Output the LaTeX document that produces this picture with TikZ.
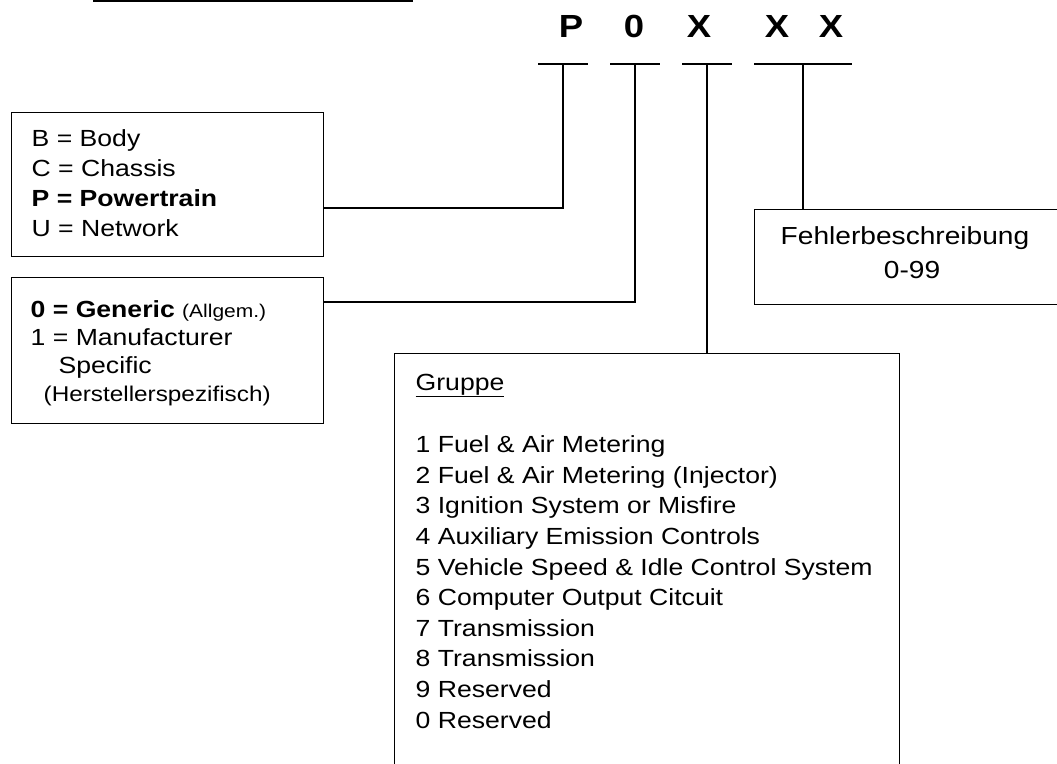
\documentclass[tikz,border=0pt]{standalone}
\usepackage{fontspec}
\setmainfont{Liberation Sans}[FakeStretch=1.14]
\usetikzlibrary{positioning}
\tikzset{
    %Define style for boxes
    kasten/.style={
           rectangle,
           draw=black, line width=1pt,
           anchor=north west,
           inner sep=0pt},
    %Define style for text lines
    zeile/.style={
           anchor=base west,
           inner sep=0pt,
           font=\fontsize{17.5}{21}\selectfont},
    kopf/.style={
           anchor=base,
           inner sep=0pt,
           font=\fontsize{24}{28}\selectfont\bfseries},
    % Define line style
    strich/.style={
           line width=1pt}
}
\begin{document}
\begin{tikzpicture}[x=0.75pt,y=-0.75pt,strich]
\useasboundingbox (0,0) rectangle (1057,764);

 %code letters
\draw[line width=1.5pt] (93,0.8) -- (413,0.8);
\node[kopf](lP) at (571,37){P};
\node[kopf](l0) at (634,37){0};
\node[kopf](lX) at (699,37){X};
\node[kopf](lY) at (777,37){X};
\node[kopf](lZ) at (831,37){X};
\coordinate (bP) at (563,64);
\coordinate (b0) at (635,64);
\coordinate (bX) at (707,64);
\coordinate (bXX) at (803,64);
\foreach \x/\w in {563/25,635/25,707/25,803/49}
  \draw ({\x-\w},64) -- ({\x+\w},64);

 %boxes
\node[kasten, minimum width=234pt, minimum height=108pt](sys) at (11,112){};
\node[kasten, minimum width=234pt, minimum height=109.5pt](gen) at (11,277){};
\node[kasten, minimum width=378.75pt, minimum height=330pt](grp) at (394,353){};
\node[kasten, minimum width=247.5pt, minimum height=71.25pt](fehl) at (754,209){};

 %texts
\foreach \t [count=\i] in {B = Body, C = Chassis, {\bfseries P = Powertrain}, U = Network}
  \node[zeile](s\i) at (31,{146.7+30*(\i-1)}){\t};
\node[zeile](g1) at (30,317){\bfseries 0 = Generic {\mdseries\fontsize{13.8}{16}\selectfont(Allgem.)}};
\node[zeile](g2) at (30,345){1 = Manufacturer};
\node[zeile](g3) at (58,373){Specific};
\node[zeile, font=\fontsize{16}{18}\selectfont](g4) at (43,401){(Herstellerspezifisch)};
\node[zeile](gt) at (415,390){\underline{Gruppe}};
\foreach \t [count=\i] in {1 Fuel \& Air Metering, 2 Fuel \& Air Metering (Injector),
    3 Ignition System or Misfire, 4 Auxiliary Emission Controls,
    5 Vehicle Speed \& Idle Control System, 6 Computer Output Citcuit,
    7 Transmission, 8 Transmission, 9 Reserved, 0 Reserved}
  \node[zeile](r\i) at (415,{452.7+30.6*(\i-1)}){\t};
\node[zeile, anchor=base, font=\fontsize{18.5}{21}\selectfont](f1) at (905,244){Fehlerbeschreibung};
\node[zeile, anchor=base, font=\fontsize{18.5}{21}\selectfont](f2) at (912,278){0-99};

 %connectors
\coordinate (jP) at (563,208);
\coordinate (j0) at (635,302);
\draw (bP) -- (jP) -- (jP -| sys.east);
\draw (b0) -- (j0) -- (j0 -| gen.east);
\draw (bX) -- (bX |- grp.north);
\draw (bXX) -- (bXX |- fehl.north);
\end{tikzpicture}
\end{document}
